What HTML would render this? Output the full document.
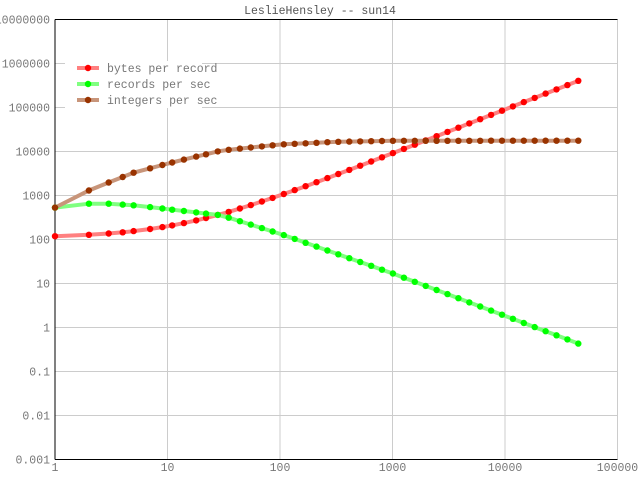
<!DOCTYPE html>
<html><head><meta charset="utf-8"><style>
body{margin:0;background:#fff}
svg text{font-family:"Liberation Mono",monospace;font-size:11.5px;fill:#777}
</style></head><body>
<svg id="s" width="640" height="480" xmlns="http://www.w3.org/2000/svg"></svg>
<script>
var s=document.getElementById('s'),h='';
var L=55,R=617.5,T=19.5,B=459.5;
function X(x){return L+Math.log10(x)*112.5}
function Y(y){return B-(Math.log10(y)+3)*44}
h+='<rect x="0" y="0" width="640" height="480" fill="#fff"/>';
for(var d=0;d<=5;d++){var xx=X(Math.pow(10,d));h+='<line x1="'+xx+'" y1="'+T+'" x2="'+xx+'" y2="'+B+'" stroke="#ccc"/>';
h+='<text x="'+xx+'" y="471" text-anchor="middle">'+Math.pow(10,d)+'</text>';}
var yl=['0.001','0.01','0.1','1','10','100','1000','10000','100000','1000000','10000000'];
for(var e=-3;e<=7;e++){var yy=Y(Math.pow(10,e));h+='<line x1="'+L+'" y1="'+yy+'" x2="'+R+'" y2="'+yy+'" stroke="#ccc"/>';
h+='<text x="50" y="'+(yy+4)+'" text-anchor="end">'+yl[e+3]+'</text>';}
h+='<line x1="'+L+'" y1="'+T+'" x2="'+R+'" y2="'+T+'" stroke="#000"/>';
h+='<line x1="'+L+'" y1="'+T+'" x2="'+L+'" y2="'+B+'" stroke="#000"/>';
h+='<line x1="'+L+'" y1="'+B+'" x2="'+R+'" y2="'+B+'" stroke="#000"/>';
h+='<text x="320" y="14" text-anchor="middle" style="fill:#555">LeslieHensley -- sun14</text>';
var xs=[],v=1;while(v<=45000){var f=Math.floor(v);if(xs.indexOf(f)<0)xs.push(f);v*=1.25;}
if(xs[xs.length-1]<44000)xs.push(45000);
function interp(pts,x){var lx=Math.log10(x);for(var i=0;i<pts.length-1;i++){var a=pts[i],b=pts[i+1];if(lx<=Math.log10(b[0])){var t=(lx-Math.log10(a[0]))/(Math.log10(b[0])-Math.log10(a[0]));return Math.pow(10,Math.log10(a[1])+t*(Math.log10(b[1])-Math.log10(a[1])));}}return pts[pts.length-1][1];}
var ip=[[1,530],[2,1300],[3,1970],[5,3300],[10,5300],[30,10500],[100,14400],[300,16500],[1000,17500],[45000,17600]];
var rp=[[1,530],[2,650],[3,650],[5,600],[10,490],[30,355],[100,135],[1000,17],[45000,0.43]];
var series=[
 {f:function(x){return 110+9*x},lc:'#ff8080',mc:'#ff0000'},
 {f:function(x){return interp(rp,x)},lc:'#80ff80',mc:'#00ff00'},
 {f:function(x){return interp(ip,x)},lc:'#c8957a',mc:'#993300'}];
series.forEach(function(S){var p=xs.map(function(x){return X(x).toFixed(1)+','+Y(S.f(x)).toFixed(1)}).join(' ');
h+='<polyline points="'+p+'" fill="none" stroke="'+S.lc+'" stroke-width="4"/>';});
series.forEach(function(S){xs.forEach(function(x){h+='<circle cx="'+X(x).toFixed(1)+'" cy="'+Y(S.f(x)).toFixed(1)+'" r="3.2" fill="'+S.mc+'"/>';});});
h+='<rect x="65" y="61" width="137" height="47" fill="#fff"/>';
var names=['bytes per record','records per sec','integers per sec'];
series.forEach(function(S,i){var yy=68+i*16;h+='<line x1="77" y1="'+yy+'" x2="99" y2="'+yy+'" stroke="'+S.lc+'" stroke-width="4"/><circle cx="88" cy="'+yy+'" r="3.2" fill="'+S.mc+'"/><text x="107" y="'+(yy+4)+'">'+names[i]+'</text>';});
s.innerHTML=h;
</script>
</body></html>
